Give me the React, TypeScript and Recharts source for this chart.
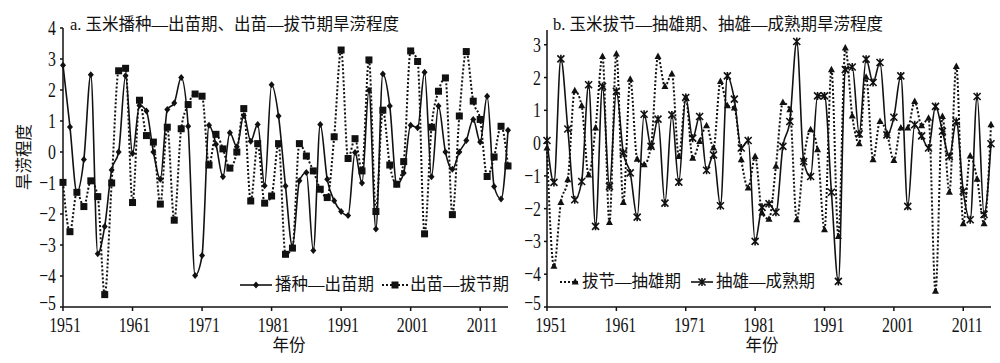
import { LineChart, Line, XAxis, YAxis } from 'recharts';

// years on the x axis
const years = [
  1951, 1952, 1953, 1954, 1955, 1956, 1957, 1958, 1959, 1960,
  1961, 1962, 1963, 1964, 1965, 1966, 1967, 1968, 1969, 1970,
  1971, 1972, 1973, 1974, 1975, 1976, 1977, 1978, 1979, 1980,
  1981, 1982, 1983, 1984, 1985, 1986, 1987, 1988, 1989, 1990,
  1991, 1992, 1993, 1994, 1995, 1996, 1997, 1998, 1999, 2000,
  2001, 2002, 2003, 2004, 2005, 2006, 2007, 2008, 2009, 2010,
  2011, 2012, 2013, 2014, 2015,
];

// a. 播种—出苗期
const sowingEmergence = [
  2.8, 0.81, -1.3, -0.24, 2.49, -3.28, -2.4, -0.58, 0.0, 2.46,
  -0.05, 1.5, 1.32, 0.0, -0.88, 1.37, 1.58, 2.4, 0.83, -3.98,
  -3.34, 0.86, 0.25, -0.8, 0.62, 0.17, 1.18, 0.35, 0.89, -1.09,
  2.17, 1.16, -1.1, -3.05, -0.93, -0.66, -3.18, 0.89, -0.88, -1.57,
  -1.92, -2.05, -0.02, -1.0, 1.99, -2.48, 2.52, 1.48, -1.04, -0.68,
  0.86, 0.78, 2.57, -0.8, 1.48, 0.0, -0.56, 0.0, 0.37, 1.05,
  0.32, 1.8, -1.11, -1.52, 0.7,
];

// a. 出苗—拔节期
const emergenceJointing = [
  -0.98, -2.57, -1.3, -1.76, -0.93, -1.44, -4.6, -1.0, 2.62, 2.7,
  -1.63, 1.67, 0.53, 0.32, -1.68, 0.8, -2.2, 0.75, 1.53, 1.87,
  1.8, -0.42, 0.57, 0.1, -0.52, 0.0, 1.4, -1.58, 0.27, -1.65,
  -1.42, 0.27, -3.3, -3.1, 0.27, -0.13, -0.61, -1.2, -1.47, 0.49,
  3.29, -0.21, 0.43, -0.61, 2.97, -1.92, 1.35, -0.42, -1.04, -0.31,
  3.26, 2.92, -2.64, 0.8, 1.96, 2.39, -2.02, 1.16, 3.24, 1.64,
  1.05, -0.79, -0.16, 0.83, -0.45,
];

// b. 拔节—抽雄期
const jointingTasseling = [
  -0.15, -3.76, -1.81, -1.12, 1.6, 1.14, -0.97, 0.46, 2.64, -2.42,
  2.72, -1.81, 1.95, -0.49, -0.66, -0.08, 2.64, 1.73, 2.11, -0.41,
  1.39, -0.46, 0.05, 0.53, -0.15, 1.88, 1.14, 1.07, -0.51, -1.37,
  -0.41, -2.13, -2.32, -0.71, 1.24, 1.02, -2.34, -0.49, 0.41, -0.2,
  -2.64, 2.24, -2.85, 2.9, 0.83, -0.02, 2.01, -0.51, 0.66, 0.3,
  -0.53, 0.46, 0.46, 1.27, 0.53, 0.76, -4.52, 0.81, -1.5, 2.34,
  -2.46, -0.39, -1.1, -2.46, 0.56,
];

// b. 抽雄—成熟期
const tasselingMaturity = [
  0.08, -1.2, 2.57, 0.43, -1.73, -1.17, 1.78, -2.54, 1.73, -1.32,
  1.58, -0.3, -0.91, -2.26, 0.88, -0.1, 0.73, -1.83, 0.86, -1.19,
  1.39, 0.15, 0.81, -0.83, -0.36, -1.91, 2.05, 1.34, -0.15, 0.08,
  -3.0, -1.96, -1.85, -2.11, -0.1, 0.66, 3.1, -0.56, -1.02, 1.44,
  1.44, -1.5, -4.22, 2.24, 2.32, 0.28, 2.56, 1.85, 2.46, 0.25,
  0.79, 2.05, -1.93, 0.56, 0.22, -0.15, 1.12, 0.36, -0.41, 0.66,
  -1.47, -2.34, 1.42, -2.18, -0.02,
];

const yearTicks = [1951, 1961, 1971, 1981, 1991, 2001, 2011];
const ticksA = [-5, -4, -3, -2, -1, 0, 1, 2, 3, 4];
const ticksB = [-5, -4, -3, -2, -1, 0, 1, 2, 3];

const dataA = years.map((year, i) => ({
  year,
  sow: sowingEmergence[i],
  joint: emergenceJointing[i],
}));

const dataB = years.map((year, i) => ({
  year,
  joint: jointingTasseling[i],
  tassel: tasselingMaturity[i],
}));

const INK = '#111';
const SERIF = '"Liberation Serif", "Noto Sans CJK SC", serif';

const fmt = (v: number) => (v < 0 ? '\u2212' + Math.abs(v) : String(v));

// condensed serif numbers, like the scanned figure
const makeXTick = (shift: number) => (props: any) => {
  const { x, y, payload } = props;
  return (
    <text
      transform={`translate(${x + shift},${y + 19}) scale(0.72,1)`}
      textAnchor="middle"
      fontSize={22}
      fontFamily={SERIF}
      fill={INK}
    >
      {payload.value}
    </text>
  );
};

const makeYTick = (shift: number) => (props: any) => {
  const { x, y, payload } = props;
  // bottom label sits a little higher so it clears the year labels
  const lift = payload.value === -5 ? 3 : 7;
  return (
    <text
      transform={`translate(${x + shift},${y + lift}) scale(0.72,1)`}
      textAnchor="end"
      fontSize={22}
      fontFamily={SERIF}
      fill={INK}
    >
      {fmt(payload.value)}
    </text>
  );
};

// markers
const diamond = (cx: number, cy: number) =>
  `${cx},${cy - 3.5} ${cx + 3},${cy} ${cx},${cy + 3.5} ${cx - 3},${cy}`;
const triangle = (cx: number, cy: number) =>
  `${cx},${cy - 4} ${cx + 3.5},${cy + 2.5} ${cx - 3.5},${cy + 2.5}`;
const cross = (cx: number, cy: number) =>
  `M${cx - 3.5},${cy - 3.5}L${cx + 3.5},${cy + 3.5}M${cx + 3.5},${cy - 3.5}L${cx - 3.5},${cy + 3.5}M${cx},${cy - 4}L${cx},${cy + 4}`;

const DiamondDot = (props: any) => {
  const { cx, cy, index } = props;
  if (cx == null || cy == null) return <g key={`dd-${index}`} />;
  return <polygon key={`dd-${index}`} points={diamond(cx, cy)} fill={INK} />;
};

const SquareDot = (props: any) => {
  const { cx, cy, index } = props;
  if (cx == null || cy == null) return <g key={`sq-${index}`} />;
  return <rect key={`sq-${index}`} x={cx - 3.5} y={cy - 3.5} width={7} height={7} fill={INK} />;
};

const TriangleDot = (props: any) => {
  const { cx, cy, index } = props;
  if (cx == null || cy == null) return <g key={`tr-${index}`} />;
  return <polygon key={`tr-${index}`} points={triangle(cx, cy)} fill={INK} />;
};

const CrossDot = (props: any) => {
  const { cx, cy, index } = props;
  if (cx == null || cy == null) return <g key={`cr-${index}`} />;
  return <path key={`cr-${index}`} d={cross(cx, cy)} stroke={INK} strokeWidth={1.6} fill="none" />;
};

const textStyle: React.CSSProperties = {
  position: 'absolute',
  fontFamily: SERIF,
  fontSize: 16.5,
  color: INK,
  whiteSpace: 'nowrap',
  lineHeight: 1,
};

// small legend swatch: line sample with a marker on it
const Swatch = ({ w, dashed, marker }: { w: number; dashed?: boolean; marker: string }) => (
  <svg width={w} height={12} style={{ display: 'block' }}>
    <line
      x1={0}
      x2={w}
      y1={6}
      y2={6}
      stroke={INK}
      strokeWidth={dashed ? 2 : 1.6}
      strokeDasharray={dashed ? '2 2' : undefined}
    />
    {marker === 'diamond' && <polygon points={diamond(w / 2, 6)} fill={INK} />}
    {marker === 'square' && <rect x={w / 2 - 3.5} y={2.5} width={7} height={7} fill={INK} />}
    {marker === 'triangle' && <polygon points={triangle(w * 0.8, 6)} fill={INK} />}
    {marker === 'cross' && <path d={cross(w / 2, 6)} stroke={INK} strokeWidth={1.6} fill="none" />}
  </svg>
);

const axisLine = { stroke: INK, strokeWidth: 1.5 };

export default function App() {
  return (
    <div style={{ position: 'absolute', left: 0, top: 0, width: 1000, height: 363, background: '#fff' }}>
      {/* panel a */}
      <div style={{ position: 'absolute', left: 0, top: 0 }}>
        <LineChart width={520} height={363} data={dataA} margin={{ top: 28, right: 12, bottom: 0, left: 0 }}>
          <XAxis
            dataKey="year"
            type="number"
            domain={[1951, 2015]}
            ticks={yearTicks}
            tick={makeXTick(2)}
            tickSize={4}
            height={56}
            axisLine={axisLine}
            tickLine={axisLine}
          />
          <YAxis
            type="number"
            domain={[-5, 4]}
            ticks={ticksA}
            tick={makeYTick(-2)}
            tickSize={3}
            width={63}
            axisLine={axisLine}
            tickLine={axisLine}
            allowDataOverflow
          />
          <Line
            dataKey="joint"
            type="monotone"
            stroke={INK}
            strokeWidth={2}
            strokeDasharray="2 2"
            dot={SquareDot}
            activeDot={false}
            isAnimationActive={false}
          />
          <Line
            dataKey="sow"
            type="monotone"
            stroke={INK}
            strokeWidth={1.6}
            dot={DiamondDot}
            activeDot={false}
            isAnimationActive={false}
          />
        </LineChart>
      </div>

      {/* panel b */}
      <div style={{ position: 'absolute', left: 520, top: 0 }}>
        <LineChart width={480} height={363} data={dataB} margin={{ top: 30, right: 9, bottom: 0, left: 0 }}>
          <XAxis
            dataKey="year"
            type="number"
            domain={[1951, 2015]}
            ticks={yearTicks}
            tick={makeXTick(4)}
            tickSize={4}
            height={56}
            axisLine={axisLine}
            tickLine={axisLine}
          />
          <YAxis
            type="number"
            domain={[-5, 3.45]}
            ticks={ticksB}
            tick={makeYTick(-1)}
            tickSize={3}
            width={27}
            axisLine={axisLine}
            tickLine={axisLine}
            allowDataOverflow
          />
          <Line
            dataKey="joint"
            type="monotone"
            stroke={INK}
            strokeWidth={2}
            strokeDasharray="2 2"
            dot={TriangleDot}
            activeDot={false}
            isAnimationActive={false}
          />
          <Line
            dataKey="tassel"
            type="monotone"
            stroke={INK}
            strokeWidth={1.6}
            dot={CrossDot}
            activeDot={false}
            isAnimationActive={false}
          />
        </LineChart>
      </div>

      {/* titles */}
      <div style={{ ...textStyle, left: 70, top: 17 }}>a. 玉米播种—出苗期、出苗—拔节期旱涝程度</div>
      <div style={{ ...textStyle, left: 553, top: 17 }}>b. 玉米拔节—抽雄期、抽雄—成熟期旱涝程度</div>

      {/* axis titles */}
      <div
        style={{
          ...textStyle,
          left: 25,
          top: 157,
          transform: 'translate(-50%, -50%) rotate(-90deg)',
        }}
      >
        旱涝程度
      </div>
      <div style={{ ...textStyle, left: 289, top: 346, transform: 'translate(-50%, -50%)' }}>年份</div>
      <div style={{ ...textStyle, left: 762, top: 346, transform: 'translate(-50%, -50%)' }}>年份</div>

      {/* legend a */}
      <div style={{ ...textStyle, left: 240, top: 277, display: 'flex', alignItems: 'center' }}>
        <Swatch w={32} marker="diamond" />
        <span style={{ marginLeft: 3 }}>播种—出苗期</span>
        <span style={{ marginLeft: 8 }}>
          <Swatch w={26} dashed marker="square" />
        </span>
        <span style={{ marginLeft: 2 }}>出苗—拔节期</span>
      </div>

      {/* legend b */}
      <div style={{ ...textStyle, left: 560, top: 274, display: 'flex', alignItems: 'center' }}>
        <Swatch w={19} dashed marker="triangle" />
        <span style={{ marginLeft: 3 }}>拔节—抽雄期</span>
        <span style={{ marginLeft: 10 }}>
          <Swatch w={22} marker="cross" />
        </span>
        <span style={{ marginLeft: 3 }}>抽雄—成熟期</span>
      </div>
    </div>
  );
}
